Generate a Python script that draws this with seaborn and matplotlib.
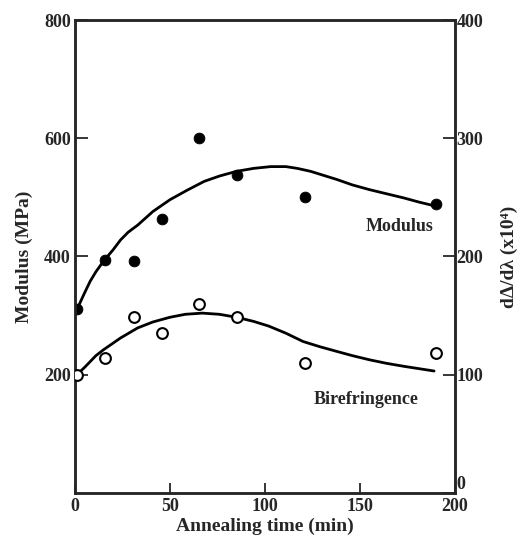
import numpy as np
import pandas as pd
import matplotlib
matplotlib.use('Agg')
import matplotlib.pyplot as plt
import seaborn as sns

# measured points
time_min = [1, 16, 31, 46, 65, 85, 121, 190]
modulus_mpa = [311, 394, 393, 464, 600, 538, 500, 488]
biref = [100, 114, 148.5, 135, 160, 148.5, 109.5, 118.5]

# hand-drawn trend curves
mod_curve_t = [1, 5, 8, 11, 15, 20, 24, 28, 33, 41, 50, 59, 68, 76, 85, 94, 103, 111, 117,
               124, 131, 138, 146, 155, 164, 173, 181, 190]
mod_curve_v = [310, 338, 358, 374, 392, 411, 428, 441, 453, 476, 496, 512, 527, 536, 544, 549,
               552, 552, 549, 544, 537, 530, 521, 513, 506, 499, 492, 485]
bir_curve_t = [1, 5, 8, 11, 15, 24, 33, 41, 50, 58, 67, 76, 85, 94, 102, 111, 120, 129,
               138, 146, 155, 164, 173, 181, 189]
bir_curve_v = [100, 106, 111, 116, 121, 131, 139.5, 144.5, 148.5, 151, 152, 151, 148.5, 145,
               141, 135, 128, 123.5, 119.5, 116, 112.5, 109.5, 107, 105, 103]

sns.set_style('ticks')
plt.rcParams['font.family'] = ['Liberation Serif', 'DejaVu Serif']
plt.rcParams['font.weight'] = 'bold'
plt.rcParams['axes.labelweight'] = 'bold'

fig = plt.figure(figsize=(5.26, 5.43), dpi=100)
ax = fig.add_axes([0.1426, 0.0926, 0.7224, 0.8704])
ax2 = ax.twinx()

pts = pd.DataFrame({'t': time_min, 'mod': modulus_mpa, 'bir': biref})

sns.lineplot(x=mod_curve_t, y=mod_curve_v, ax=ax, color='black', lw=2.0)
sns.scatterplot(data=pts, x='t', y='mod', ax=ax, color='black', s=60,
                edgecolor='black', zorder=5)

sns.lineplot(x=bir_curve_t, y=bir_curve_v, ax=ax2, color='black', lw=2.0)
sns.scatterplot(data=pts, x='t', y='bir', ax=ax2, facecolor='white', s=60,
                edgecolor='black', linewidth=1.5, zorder=5)

ax.set_xlim(0, 200)
ax.set_ylim(0, 800)
ax2.set_ylim(0, 400)

ax.set_xticks([0, 50, 100, 150, 200])
ax.set_yticks([200, 400, 600, 800])
ax2.set_yticks([0, 100, 200, 300, 400])

ax.tick_params(axis='x', direction='in', length=7, width=1.3, pad=4, labelsize=13)
ax.tick_params(axis='y', direction='in', length=9, width=1.3, pad=3, labelsize=13)
ax2.tick_params(axis='y', direction='in', length=9, width=1.3, pad=1, labelsize=13)

# right-hand "0" sits just above the bottom spine
ax2.yaxis.get_major_ticks()[0].label2.set_verticalalignment('bottom')

for a in (ax, ax2):
    for sp in a.spines.values():
        sp.set_linewidth(1.8)

ax.set_xlabel('Annealing time (min)', fontsize=14, labelpad=2)
ax.set_ylabel('Modulus (MPa)', fontsize=14, labelpad=8)
ax2.set_ylabel('dΔ/dλ (x10⁴)', fontsize=14, labelpad=13)

ax.text(171, 451, 'Modulus', ha='center', va='center', fontsize=13, fontweight='bold')
ax.text(153, 158, 'Birefringence', ha='center', va='center', fontsize=13, fontweight='bold')

plt.savefig('out.png', dpi=100)
